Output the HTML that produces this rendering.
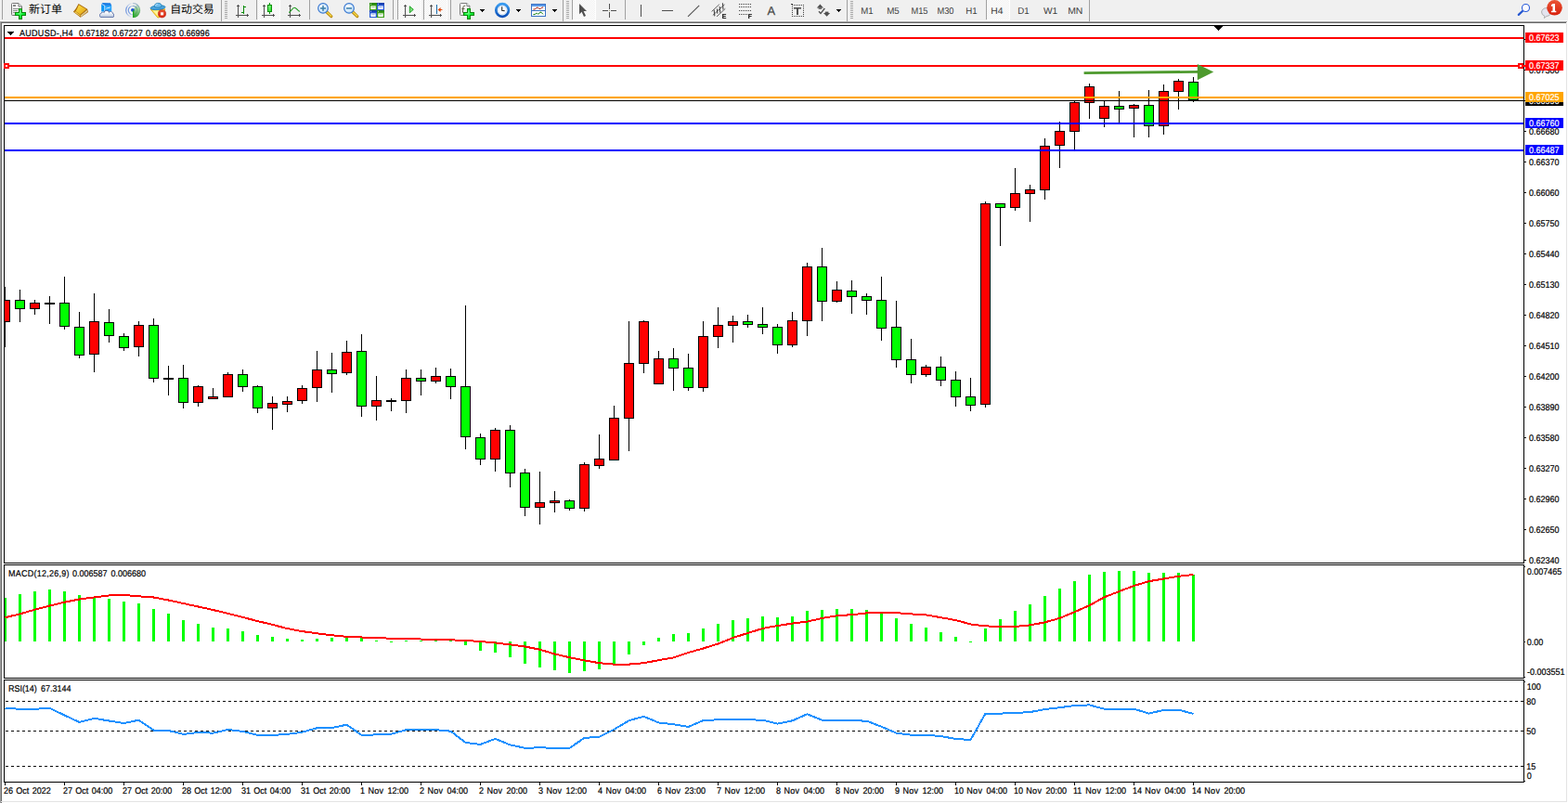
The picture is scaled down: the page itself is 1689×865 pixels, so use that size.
<!DOCTYPE html>
<html><head><meta charset="utf-8"><title>AUDUSD H4</title>
<style>
html,body{margin:0;padding:0;background:#fff}
body{width:1689px;height:865px;overflow:hidden;position:relative;font-family:"Liberation Sans",sans-serif}
svg{position:absolute;left:0;top:0;display:block}
svg text{font-family:"Liberation Sans",sans-serif;white-space:pre;text-rendering:geometricPrecision}
svg text.cjk{font-family:"Liberation Sans","Noto Sans CJK SC",sans-serif}
</style></head><body>
<svg width="1689" height="865" viewBox="0 0 1689 865" shape-rendering="crispEdges">
<rect x="0" y="0" width="1689" height="865" fill="#ffffff"/>
<rect x="0" y="0" width="1689" height="22" fill="#f0f0f0"/>
<rect x="0" y="22" width="1689" height="1" fill="#f8f8f8"/>
<rect x="0" y="23" width="1688" height="1" fill="#a0a0a0"/>
<rect x="0" y="24" width="1687" height="1" fill="#696969"/>
<rect x="0" y="24" width="1" height="841" fill="#a0a0a0"/>
<rect x="1" y="25" width="1" height="840" fill="#696969"/>
<rect x="1687" y="25" width="1" height="839" fill="#e3e3e3"/>
<rect x="1" y="863" width="1687" height="1" fill="#e3e3e3"/>
<rect x="4" y="27" width="1638" height="1" fill="#000"/>
<rect x="4" y="606" width="1638" height="1" fill="#000"/>
<rect x="4" y="27" width="1" height="580" fill="#000"/>
<rect x="1641" y="27" width="1" height="580" fill="#000"/>
<rect x="4" y="608" width="1638" height="1" fill="#000"/>
<rect x="4" y="730" width="1638" height="1" fill="#000"/>
<rect x="4" y="608" width="1" height="123" fill="#000"/>
<rect x="1641" y="608" width="1" height="123" fill="#000"/>
<rect x="4" y="732" width="1638" height="1" fill="#000"/>
<rect x="4" y="842" width="1638" height="1" fill="#000"/>
<rect x="4" y="732" width="1" height="111" fill="#000"/>
<rect x="1641" y="732" width="1" height="111" fill="#000"/>
<clipPath id="cp"><rect x="5" y="28" width="1636" height="578"/></clipPath>
<g clip-path="url(#cp)">
<rect x="5" y="309" width="1" height="65" fill="#000"/>
<rect x="0" y="323" width="11" height="24" fill="#000"/>
<rect x="1" y="324" width="9" height="22" fill="#ff0000"/>
<rect x="21" y="312" width="1" height="35" fill="#000"/>
<rect x="16" y="323" width="11" height="10" fill="#000"/>
<rect x="17" y="324" width="9" height="8" fill="#00ff00"/>
<rect x="37" y="323" width="1" height="16" fill="#000"/>
<rect x="32" y="326" width="11" height="7" fill="#000"/>
<rect x="33" y="327" width="9" height="5" fill="#ff0000"/>
<rect x="53" y="319" width="1" height="30" fill="#000"/>
<rect x="48" y="326" width="11" height="2" fill="#000"/>
<rect x="69" y="298" width="1" height="57" fill="#000"/>
<rect x="64" y="326" width="11" height="26" fill="#000"/>
<rect x="65" y="327" width="9" height="24" fill="#00ff00"/>
<rect x="85" y="336" width="1" height="50" fill="#000"/>
<rect x="80" y="352" width="11" height="31" fill="#000"/>
<rect x="81" y="353" width="9" height="29" fill="#00ff00"/>
<rect x="101" y="316" width="1" height="85" fill="#000"/>
<rect x="96" y="346" width="11" height="36" fill="#000"/>
<rect x="97" y="347" width="9" height="34" fill="#ff0000"/>
<rect x="117" y="333" width="1" height="36" fill="#000"/>
<rect x="112" y="347" width="11" height="15" fill="#000"/>
<rect x="113" y="348" width="9" height="13" fill="#00ff00"/>
<rect x="133" y="359" width="1" height="19" fill="#000"/>
<rect x="128" y="362" width="11" height="13" fill="#000"/>
<rect x="129" y="363" width="9" height="11" fill="#00ff00"/>
<rect x="149" y="346" width="1" height="38" fill="#000"/>
<rect x="144" y="350" width="11" height="24" fill="#000"/>
<rect x="145" y="351" width="9" height="22" fill="#ff0000"/>
<rect x="165" y="343" width="1" height="69" fill="#000"/>
<rect x="160" y="350" width="11" height="58" fill="#000"/>
<rect x="161" y="351" width="9" height="56" fill="#00ff00"/>
<rect x="181" y="394" width="1" height="32" fill="#000"/>
<rect x="176" y="407" width="11" height="2" fill="#000"/>
<rect x="197" y="393" width="1" height="47" fill="#000"/>
<rect x="192" y="407" width="11" height="27" fill="#000"/>
<rect x="193" y="408" width="9" height="25" fill="#00ff00"/>
<rect x="213" y="415" width="1" height="23" fill="#000"/>
<rect x="208" y="416" width="11" height="18" fill="#000"/>
<rect x="209" y="417" width="9" height="16" fill="#ff0000"/>
<rect x="229" y="418" width="1" height="12" fill="#000"/>
<rect x="224" y="427" width="11" height="3" fill="#000"/>
<rect x="225" y="428" width="9" height="1" fill="#ff0000"/>
<rect x="245" y="401" width="1" height="27" fill="#000"/>
<rect x="240" y="403" width="11" height="25" fill="#000"/>
<rect x="241" y="404" width="9" height="23" fill="#ff0000"/>
<rect x="261" y="398" width="1" height="24" fill="#000"/>
<rect x="256" y="403" width="11" height="14" fill="#000"/>
<rect x="257" y="404" width="9" height="12" fill="#00ff00"/>
<rect x="277" y="415" width="1" height="30" fill="#000"/>
<rect x="272" y="416" width="11" height="24" fill="#000"/>
<rect x="273" y="417" width="9" height="22" fill="#00ff00"/>
<rect x="293" y="427" width="1" height="36" fill="#000"/>
<rect x="288" y="434" width="11" height="6" fill="#000"/>
<rect x="289" y="435" width="9" height="4" fill="#ff0000"/>
<rect x="309" y="427" width="1" height="17" fill="#000"/>
<rect x="304" y="432" width="11" height="4" fill="#000"/>
<rect x="305" y="433" width="9" height="2" fill="#ff0000"/>
<rect x="325" y="415" width="1" height="20" fill="#000"/>
<rect x="320" y="418" width="11" height="14" fill="#000"/>
<rect x="321" y="419" width="9" height="12" fill="#ff0000"/>
<rect x="341" y="378" width="1" height="55" fill="#000"/>
<rect x="336" y="398" width="11" height="20" fill="#000"/>
<rect x="337" y="399" width="9" height="18" fill="#ff0000"/>
<rect x="357" y="380" width="1" height="43" fill="#000"/>
<rect x="352" y="398" width="11" height="5" fill="#000"/>
<rect x="353" y="399" width="9" height="3" fill="#00ff00"/>
<rect x="373" y="367" width="1" height="37" fill="#000"/>
<rect x="368" y="379" width="11" height="23" fill="#000"/>
<rect x="369" y="380" width="9" height="21" fill="#ff0000"/>
<rect x="389" y="360" width="1" height="89" fill="#000"/>
<rect x="384" y="378" width="11" height="60" fill="#000"/>
<rect x="385" y="379" width="9" height="58" fill="#00ff00"/>
<rect x="405" y="405" width="1" height="48" fill="#000"/>
<rect x="400" y="431" width="11" height="7" fill="#000"/>
<rect x="401" y="432" width="9" height="5" fill="#ff0000"/>
<rect x="421" y="429" width="1" height="14" fill="#000"/>
<rect x="416" y="431" width="11" height="2" fill="#000"/>
<rect x="437" y="398" width="1" height="47" fill="#000"/>
<rect x="432" y="407" width="11" height="25" fill="#000"/>
<rect x="433" y="408" width="9" height="23" fill="#ff0000"/>
<rect x="453" y="398" width="1" height="28" fill="#000"/>
<rect x="448" y="407" width="11" height="4" fill="#000"/>
<rect x="449" y="408" width="9" height="2" fill="#00ff00"/>
<rect x="469" y="396" width="1" height="17" fill="#000"/>
<rect x="464" y="405" width="11" height="6" fill="#000"/>
<rect x="465" y="406" width="9" height="4" fill="#ff0000"/>
<rect x="485" y="397" width="1" height="33" fill="#000"/>
<rect x="480" y="405" width="11" height="12" fill="#000"/>
<rect x="481" y="406" width="9" height="10" fill="#00ff00"/>
<rect x="501" y="329" width="1" height="155" fill="#000"/>
<rect x="496" y="416" width="11" height="55" fill="#000"/>
<rect x="497" y="417" width="9" height="53" fill="#00ff00"/>
<rect x="517" y="467" width="1" height="34" fill="#000"/>
<rect x="512" y="471" width="11" height="24" fill="#000"/>
<rect x="513" y="472" width="9" height="22" fill="#00ff00"/>
<rect x="533" y="461" width="1" height="47" fill="#000"/>
<rect x="528" y="463" width="11" height="32" fill="#000"/>
<rect x="529" y="464" width="9" height="30" fill="#ff0000"/>
<rect x="549" y="458" width="1" height="67" fill="#000"/>
<rect x="544" y="463" width="11" height="47" fill="#000"/>
<rect x="545" y="464" width="9" height="45" fill="#00ff00"/>
<rect x="565" y="505" width="1" height="51" fill="#000"/>
<rect x="560" y="509" width="11" height="38" fill="#000"/>
<rect x="561" y="510" width="9" height="36" fill="#00ff00"/>
<rect x="581" y="508" width="1" height="57" fill="#000"/>
<rect x="576" y="541" width="11" height="6" fill="#000"/>
<rect x="577" y="542" width="9" height="4" fill="#ff0000"/>
<rect x="597" y="529" width="1" height="23" fill="#000"/>
<rect x="592" y="539" width="11" height="3" fill="#000"/>
<rect x="593" y="540" width="9" height="1" fill="#ff0000"/>
<rect x="613" y="538" width="1" height="12" fill="#000"/>
<rect x="608" y="539" width="11" height="9" fill="#000"/>
<rect x="609" y="540" width="9" height="7" fill="#00ff00"/>
<rect x="629" y="498" width="1" height="53" fill="#000"/>
<rect x="624" y="500" width="11" height="48" fill="#000"/>
<rect x="625" y="501" width="9" height="46" fill="#ff0000"/>
<rect x="645" y="468" width="1" height="37" fill="#000"/>
<rect x="640" y="494" width="11" height="8" fill="#000"/>
<rect x="641" y="495" width="9" height="6" fill="#ff0000"/>
<rect x="661" y="437" width="1" height="59" fill="#000"/>
<rect x="656" y="450" width="11" height="46" fill="#000"/>
<rect x="657" y="451" width="9" height="44" fill="#ff0000"/>
<rect x="677" y="346" width="1" height="140" fill="#000"/>
<rect x="672" y="391" width="11" height="60" fill="#000"/>
<rect x="673" y="392" width="9" height="58" fill="#ff0000"/>
<rect x="693" y="345" width="1" height="57" fill="#000"/>
<rect x="688" y="346" width="11" height="46" fill="#000"/>
<rect x="689" y="347" width="9" height="44" fill="#ff0000"/>
<rect x="709" y="378" width="1" height="36" fill="#000"/>
<rect x="704" y="386" width="11" height="28" fill="#000"/>
<rect x="705" y="387" width="9" height="26" fill="#ff0000"/>
<rect x="725" y="375" width="1" height="46" fill="#000"/>
<rect x="720" y="386" width="11" height="11" fill="#000"/>
<rect x="721" y="387" width="9" height="9" fill="#00ff00"/>
<rect x="741" y="381" width="1" height="40" fill="#000"/>
<rect x="736" y="396" width="11" height="22" fill="#000"/>
<rect x="737" y="397" width="9" height="20" fill="#00ff00"/>
<rect x="757" y="346" width="1" height="76" fill="#000"/>
<rect x="752" y="362" width="11" height="56" fill="#000"/>
<rect x="753" y="363" width="9" height="54" fill="#ff0000"/>
<rect x="773" y="331" width="1" height="44" fill="#000"/>
<rect x="768" y="350" width="11" height="13" fill="#000"/>
<rect x="769" y="351" width="9" height="11" fill="#ff0000"/>
<rect x="789" y="340" width="1" height="29" fill="#000"/>
<rect x="784" y="346" width="11" height="5" fill="#000"/>
<rect x="785" y="347" width="9" height="3" fill="#ff0000"/>
<rect x="805" y="339" width="1" height="14" fill="#000"/>
<rect x="800" y="346" width="11" height="4" fill="#000"/>
<rect x="801" y="347" width="9" height="2" fill="#00ff00"/>
<rect x="821" y="331" width="1" height="29" fill="#000"/>
<rect x="816" y="349" width="11" height="4" fill="#000"/>
<rect x="817" y="350" width="9" height="2" fill="#00ff00"/>
<rect x="837" y="349" width="1" height="32" fill="#000"/>
<rect x="832" y="352" width="11" height="20" fill="#000"/>
<rect x="833" y="353" width="9" height="18" fill="#00ff00"/>
<rect x="853" y="336" width="1" height="38" fill="#000"/>
<rect x="848" y="345" width="11" height="27" fill="#000"/>
<rect x="849" y="346" width="9" height="25" fill="#ff0000"/>
<rect x="869" y="283" width="1" height="79" fill="#000"/>
<rect x="864" y="287" width="11" height="59" fill="#000"/>
<rect x="865" y="288" width="9" height="57" fill="#ff0000"/>
<rect x="885" y="267" width="1" height="79" fill="#000"/>
<rect x="880" y="287" width="11" height="38" fill="#000"/>
<rect x="881" y="288" width="9" height="36" fill="#00ff00"/>
<rect x="901" y="303" width="1" height="23" fill="#000"/>
<rect x="896" y="312" width="11" height="13" fill="#000"/>
<rect x="897" y="313" width="9" height="11" fill="#ff0000"/>
<rect x="917" y="302" width="1" height="36" fill="#000"/>
<rect x="912" y="313" width="11" height="7" fill="#000"/>
<rect x="913" y="314" width="9" height="5" fill="#00ff00"/>
<rect x="933" y="316" width="1" height="23" fill="#000"/>
<rect x="928" y="319" width="11" height="5" fill="#000"/>
<rect x="929" y="320" width="9" height="3" fill="#00ff00"/>
<rect x="949" y="298" width="1" height="69" fill="#000"/>
<rect x="944" y="323" width="11" height="31" fill="#000"/>
<rect x="945" y="324" width="9" height="29" fill="#00ff00"/>
<rect x="965" y="324" width="1" height="72" fill="#000"/>
<rect x="960" y="352" width="11" height="36" fill="#000"/>
<rect x="961" y="353" width="9" height="34" fill="#00ff00"/>
<rect x="981" y="365" width="1" height="48" fill="#000"/>
<rect x="976" y="387" width="11" height="17" fill="#000"/>
<rect x="977" y="388" width="9" height="15" fill="#00ff00"/>
<rect x="997" y="393" width="1" height="13" fill="#000"/>
<rect x="992" y="395" width="11" height="9" fill="#000"/>
<rect x="993" y="396" width="9" height="7" fill="#ff0000"/>
<rect x="1013" y="384" width="1" height="32" fill="#000"/>
<rect x="1008" y="395" width="11" height="15" fill="#000"/>
<rect x="1009" y="396" width="9" height="13" fill="#00ff00"/>
<rect x="1029" y="400" width="1" height="38" fill="#000"/>
<rect x="1024" y="409" width="11" height="19" fill="#000"/>
<rect x="1025" y="410" width="9" height="17" fill="#00ff00"/>
<rect x="1045" y="407" width="1" height="36" fill="#000"/>
<rect x="1040" y="427" width="11" height="10" fill="#000"/>
<rect x="1041" y="428" width="9" height="8" fill="#00ff00"/>
<rect x="1061" y="217" width="1" height="222" fill="#000"/>
<rect x="1056" y="219" width="11" height="217" fill="#000"/>
<rect x="1057" y="220" width="9" height="215" fill="#ff0000"/>
<rect x="1077" y="219" width="1" height="46" fill="#000"/>
<rect x="1072" y="219" width="11" height="5" fill="#000"/>
<rect x="1073" y="220" width="9" height="3" fill="#00ff00"/>
<rect x="1093" y="181" width="1" height="46" fill="#000"/>
<rect x="1088" y="208" width="11" height="16" fill="#000"/>
<rect x="1089" y="209" width="9" height="14" fill="#ff0000"/>
<rect x="1109" y="199" width="1" height="40" fill="#000"/>
<rect x="1104" y="204" width="11" height="5" fill="#000"/>
<rect x="1105" y="205" width="9" height="3" fill="#ff0000"/>
<rect x="1125" y="149" width="1" height="66" fill="#000"/>
<rect x="1120" y="157" width="11" height="48" fill="#000"/>
<rect x="1121" y="158" width="9" height="46" fill="#ff0000"/>
<rect x="1141" y="131" width="1" height="50" fill="#000"/>
<rect x="1136" y="141" width="11" height="16" fill="#000"/>
<rect x="1137" y="142" width="9" height="14" fill="#ff0000"/>
<rect x="1157" y="109" width="1" height="52" fill="#000"/>
<rect x="1152" y="110" width="11" height="32" fill="#000"/>
<rect x="1153" y="111" width="9" height="30" fill="#ff0000"/>
<rect x="1173" y="90" width="1" height="38" fill="#000"/>
<rect x="1168" y="93" width="11" height="18" fill="#000"/>
<rect x="1169" y="94" width="9" height="16" fill="#ff0000"/>
<rect x="1189" y="109" width="1" height="28" fill="#000"/>
<rect x="1184" y="114" width="11" height="14" fill="#000"/>
<rect x="1185" y="115" width="9" height="12" fill="#ff0000"/>
<rect x="1205" y="98" width="1" height="34" fill="#000"/>
<rect x="1200" y="114" width="11" height="4" fill="#000"/>
<rect x="1201" y="115" width="9" height="2" fill="#00ff00"/>
<rect x="1221" y="112" width="1" height="36" fill="#000"/>
<rect x="1216" y="113" width="11" height="4" fill="#000"/>
<rect x="1217" y="114" width="9" height="2" fill="#ff0000"/>
<rect x="1237" y="97" width="1" height="51" fill="#000"/>
<rect x="1232" y="113" width="11" height="23" fill="#000"/>
<rect x="1233" y="114" width="9" height="21" fill="#00ff00"/>
<rect x="1253" y="91" width="1" height="54" fill="#000"/>
<rect x="1248" y="98" width="11" height="38" fill="#000"/>
<rect x="1249" y="99" width="9" height="36" fill="#ff0000"/>
<rect x="1269" y="85" width="1" height="33" fill="#000"/>
<rect x="1264" y="87" width="11" height="12" fill="#000"/>
<rect x="1265" y="88" width="9" height="10" fill="#ff0000"/>
<rect x="1285" y="83" width="1" height="27" fill="#000"/>
<rect x="1280" y="88" width="11" height="20" fill="#000"/>
<rect x="1281" y="89" width="9" height="18" fill="#00ff00"/>
</g>
<rect x="5" y="40" width="1636" height="2" fill="#ff0000"/>
<rect x="5" y="70" width="1636" height="2" fill="#ff0000"/>
<rect x="5" y="104" width="1636" height="2" fill="#ffa500"/>
<rect x="5" y="108" width="1636" height="1" fill="#000"/>
<rect x="5" y="132" width="1636" height="2" fill="#0000ff"/>
<rect x="5" y="161" width="1636" height="2" fill="#0000ff"/>
<rect x="4" y="68" width="6" height="6" fill="#ff0000"/>
<rect x="6" y="70" width="2" height="2" fill="#fff"/>
<rect x="1635" y="68" width="6" height="6" fill="#ff0000"/>
<rect x="1637" y="70" width="2" height="2" fill="#fff"/>
<rect x="1641" y="70" width="2" height="2" fill="#ff0000"/>
<rect x="1641" y="40" width="1" height="2" fill="#000"/>
<rect x="1641" y="104" width="1" height="2" fill="#000"/>
<rect x="1641" y="108" width="1" height="1" fill="#000"/>
<rect x="1641" y="132" width="1" height="2" fill="#000"/>
<rect x="1641" y="161" width="1" height="2" fill="#000"/>
<g shape-rendering="geometricPrecision"><line x1="1167.6" y1="78.7" x2="1292" y2="77.3" stroke="#4e9a2e" stroke-width="2.8"/><polygon points="1289.8,69 1307.2,77.5 1289.8,86.3" fill="#4e9a2e"/></g>
<rect x="1308" y="28" width="9" height="1" fill="#000"/>
<rect x="1309" y="29" width="7" height="1" fill="#000"/>
<rect x="1310" y="30" width="5" height="1" fill="#000"/>
<rect x="1311" y="31" width="3" height="1" fill="#000"/>
<rect x="1312" y="32" width="1" height="1" fill="#000"/>
<rect x="8" y="34" width="7" height="1" fill="#000"/>
<rect x="9" y="35" width="5" height="1" fill="#000"/>
<rect x="10" y="36" width="3" height="1" fill="#000"/>
<rect x="11" y="37" width="1" height="1" fill="#000"/>
<rect x="1642" y="603" width="2" height="1" fill="#000"/>
<text transform="translate(1647.0,607) scale(0.923,1)" fill="#000" stroke="#000" stroke-width="0.2" font-size="9.75">0.62340</text>
<rect x="1642" y="570" width="2" height="1" fill="#000"/>
<text transform="translate(1647.0,574) scale(0.923,1)" fill="#000" stroke="#000" stroke-width="0.2" font-size="9.75">0.62650</text>
<rect x="1642" y="537" width="2" height="1" fill="#000"/>
<text transform="translate(1647.0,541) scale(0.923,1)" fill="#000" stroke="#000" stroke-width="0.2" font-size="9.75">0.62960</text>
<rect x="1642" y="504" width="2" height="1" fill="#000"/>
<text transform="translate(1647.0,508) scale(0.923,1)" fill="#000" stroke="#000" stroke-width="0.2" font-size="9.75">0.63270</text>
<rect x="1642" y="471" width="2" height="1" fill="#000"/>
<text transform="translate(1647.0,475) scale(0.923,1)" fill="#000" stroke="#000" stroke-width="0.2" font-size="9.75">0.63580</text>
<rect x="1642" y="438" width="2" height="1" fill="#000"/>
<text transform="translate(1647.0,442) scale(0.923,1)" fill="#000" stroke="#000" stroke-width="0.2" font-size="9.75">0.63890</text>
<rect x="1642" y="405" width="2" height="1" fill="#000"/>
<text transform="translate(1647.0,409) scale(0.923,1)" fill="#000" stroke="#000" stroke-width="0.2" font-size="9.75">0.64200</text>
<rect x="1642" y="372" width="2" height="1" fill="#000"/>
<text transform="translate(1647.0,376) scale(0.923,1)" fill="#000" stroke="#000" stroke-width="0.2" font-size="9.75">0.64510</text>
<rect x="1642" y="339" width="2" height="1" fill="#000"/>
<text transform="translate(1647.0,343) scale(0.923,1)" fill="#000" stroke="#000" stroke-width="0.2" font-size="9.75">0.64820</text>
<rect x="1642" y="306" width="2" height="1" fill="#000"/>
<text transform="translate(1647.0,310) scale(0.923,1)" fill="#000" stroke="#000" stroke-width="0.2" font-size="9.75">0.65130</text>
<rect x="1642" y="273" width="2" height="1" fill="#000"/>
<text transform="translate(1647.0,277) scale(0.923,1)" fill="#000" stroke="#000" stroke-width="0.2" font-size="9.75">0.65440</text>
<rect x="1642" y="240" width="2" height="1" fill="#000"/>
<text transform="translate(1647.0,244) scale(0.923,1)" fill="#000" stroke="#000" stroke-width="0.2" font-size="9.75">0.65750</text>
<rect x="1642" y="207" width="2" height="1" fill="#000"/>
<text transform="translate(1647.0,211) scale(0.923,1)" fill="#000" stroke="#000" stroke-width="0.2" font-size="9.75">0.66060</text>
<rect x="1642" y="174" width="2" height="1" fill="#000"/>
<text transform="translate(1647.0,178) scale(0.923,1)" fill="#000" stroke="#000" stroke-width="0.2" font-size="9.75">0.66370</text>
<rect x="1642" y="141" width="2" height="1" fill="#000"/>
<text transform="translate(1647.0,145) scale(0.923,1)" fill="#000" stroke="#000" stroke-width="0.2" font-size="9.75">0.66680</text>
<rect x="1642" y="108" width="2" height="1" fill="#000"/>
<text transform="translate(1647.0,112) scale(0.923,1)" fill="#000" stroke="#000" stroke-width="0.2" font-size="9.75">0.66990</text>
<rect x="1642" y="75" width="2" height="1" fill="#000"/>
<text transform="translate(1647.0,79) scale(0.923,1)" fill="#000" stroke="#000" stroke-width="0.2" font-size="9.75">0.67300</text>
<rect x="1642" y="42" width="2" height="1" fill="#000"/>
<text transform="translate(1647.0,46) scale(0.923,1)" fill="#000" stroke="#000" stroke-width="0.2" font-size="9.75">0.67610</text>
<rect x="1643" y="103" width="41" height="11" fill="#000"/>
<text transform="translate(1647.0,112) scale(0.923,1)" fill="#fff" stroke="#fff" stroke-width="0.2" font-size="9.75">0.66996</text>
<rect x="1643" y="99" width="41" height="11" fill="#ffa500"/>
<text transform="translate(1647.0,108) scale(0.923,1)" fill="#fff" stroke="#fff" stroke-width="0.2" font-size="9.75">0.67025</text>
<rect x="1643" y="35" width="41" height="11" fill="#ff0000"/>
<text transform="translate(1647.0,44) scale(0.923,1)" fill="#fff" stroke="#fff" stroke-width="0.2" font-size="9.75">0.67623</text>
<rect x="1643" y="65" width="41" height="11" fill="#ff0000"/>
<text transform="translate(1647.0,74) scale(0.923,1)" fill="#fff" stroke="#fff" stroke-width="0.2" font-size="9.75">0.67337</text>
<rect x="1643" y="127" width="41" height="11" fill="#0000ff"/>
<text transform="translate(1647.0,136) scale(0.923,1)" fill="#fff" stroke="#fff" stroke-width="0.2" font-size="9.75">0.66760</text>
<rect x="1643" y="156" width="41" height="11" fill="#0000ff"/>
<text transform="translate(1647.0,165) scale(0.923,1)" fill="#fff" stroke="#fff" stroke-width="0.2" font-size="9.75">0.66487</text>
<rect x="5" y="644" width="2" height="47" fill="#00ff00"/>
<rect x="20" y="640" width="3" height="51" fill="#00ff00"/>
<rect x="36" y="637" width="3" height="54" fill="#00ff00"/>
<rect x="52" y="635" width="3" height="56" fill="#00ff00"/>
<rect x="68" y="637" width="3" height="54" fill="#00ff00"/>
<rect x="84" y="641" width="3" height="50" fill="#00ff00"/>
<rect x="100" y="643" width="3" height="48" fill="#00ff00"/>
<rect x="116" y="645" width="3" height="46" fill="#00ff00"/>
<rect x="132" y="648" width="3" height="43" fill="#00ff00"/>
<rect x="148" y="650" width="3" height="41" fill="#00ff00"/>
<rect x="164" y="656" width="3" height="35" fill="#00ff00"/>
<rect x="180" y="661" width="3" height="30" fill="#00ff00"/>
<rect x="196" y="668" width="3" height="23" fill="#00ff00"/>
<rect x="212" y="672" width="3" height="19" fill="#00ff00"/>
<rect x="228" y="676" width="3" height="15" fill="#00ff00"/>
<rect x="244" y="677" width="3" height="14" fill="#00ff00"/>
<rect x="260" y="680" width="3" height="11" fill="#00ff00"/>
<rect x="276" y="684" width="3" height="7" fill="#00ff00"/>
<rect x="292" y="686" width="3" height="5" fill="#00ff00"/>
<rect x="308" y="688" width="3" height="3" fill="#00ff00"/>
<rect x="324" y="689" width="3" height="2" fill="#00ff00"/>
<rect x="340" y="688" width="3" height="3" fill="#00ff00"/>
<rect x="356" y="687" width="3" height="4" fill="#00ff00"/>
<rect x="372" y="686" width="3" height="5" fill="#00ff00"/>
<rect x="388" y="687" width="3" height="4" fill="#00ff00"/>
<rect x="404" y="690" width="3" height="1" fill="#00ff00"/>
<rect x="420" y="691" width="3" height="1" fill="#00ff00"/>
<rect x="436" y="690" width="3" height="1" fill="#00ff00"/>
<rect x="452" y="690" width="3" height="1" fill="#00ff00"/>
<rect x="468" y="690" width="3" height="1" fill="#00ff00"/>
<rect x="484" y="690" width="3" height="1" fill="#00ff00"/>
<rect x="500" y="691" width="3" height="4" fill="#00ff00"/>
<rect x="516" y="691" width="3" height="10" fill="#00ff00"/>
<rect x="532" y="691" width="3" height="12" fill="#00ff00"/>
<rect x="548" y="691" width="3" height="17" fill="#00ff00"/>
<rect x="564" y="691" width="3" height="24" fill="#00ff00"/>
<rect x="580" y="691" width="3" height="28" fill="#00ff00"/>
<rect x="596" y="691" width="3" height="31" fill="#00ff00"/>
<rect x="612" y="691" width="3" height="34" fill="#00ff00"/>
<rect x="628" y="691" width="3" height="32" fill="#00ff00"/>
<rect x="644" y="691" width="3" height="30" fill="#00ff00"/>
<rect x="660" y="691" width="3" height="24" fill="#00ff00"/>
<rect x="676" y="691" width="3" height="14" fill="#00ff00"/>
<rect x="692" y="691" width="3" height="4" fill="#00ff00"/>
<rect x="708" y="687" width="3" height="4" fill="#00ff00"/>
<rect x="724" y="683" width="3" height="8" fill="#00ff00"/>
<rect x="740" y="682" width="3" height="9" fill="#00ff00"/>
<rect x="756" y="677" width="3" height="14" fill="#00ff00"/>
<rect x="772" y="672" width="3" height="19" fill="#00ff00"/>
<rect x="788" y="668" width="3" height="23" fill="#00ff00"/>
<rect x="804" y="666" width="3" height="25" fill="#00ff00"/>
<rect x="820" y="664" width="3" height="27" fill="#00ff00"/>
<rect x="836" y="665" width="3" height="26" fill="#00ff00"/>
<rect x="852" y="664" width="3" height="27" fill="#00ff00"/>
<rect x="868" y="658" width="3" height="33" fill="#00ff00"/>
<rect x="884" y="657" width="3" height="34" fill="#00ff00"/>
<rect x="900" y="656" width="3" height="35" fill="#00ff00"/>
<rect x="916" y="656" width="3" height="35" fill="#00ff00"/>
<rect x="932" y="657" width="3" height="34" fill="#00ff00"/>
<rect x="948" y="661" width="3" height="30" fill="#00ff00"/>
<rect x="964" y="666" width="3" height="25" fill="#00ff00"/>
<rect x="980" y="672" width="3" height="19" fill="#00ff00"/>
<rect x="996" y="676" width="3" height="15" fill="#00ff00"/>
<rect x="1012" y="681" width="3" height="10" fill="#00ff00"/>
<rect x="1028" y="686" width="3" height="5" fill="#00ff00"/>
<rect x="1044" y="691" width="3" height="1" fill="#00ff00"/>
<rect x="1060" y="677" width="3" height="14" fill="#00ff00"/>
<rect x="1076" y="667" width="3" height="24" fill="#00ff00"/>
<rect x="1092" y="658" width="3" height="33" fill="#00ff00"/>
<rect x="1108" y="651" width="3" height="40" fill="#00ff00"/>
<rect x="1124" y="642" width="3" height="49" fill="#00ff00"/>
<rect x="1140" y="634" width="3" height="57" fill="#00ff00"/>
<rect x="1156" y="626" width="3" height="65" fill="#00ff00"/>
<rect x="1172" y="619" width="3" height="72" fill="#00ff00"/>
<rect x="1188" y="616" width="3" height="75" fill="#00ff00"/>
<rect x="1204" y="615" width="3" height="76" fill="#00ff00"/>
<rect x="1220" y="615" width="3" height="76" fill="#00ff00"/>
<rect x="1236" y="617" width="3" height="74" fill="#00ff00"/>
<rect x="1252" y="617" width="3" height="74" fill="#00ff00"/>
<rect x="1268" y="617" width="3" height="74" fill="#00ff00"/>
<rect x="1284" y="619" width="3" height="72" fill="#00ff00"/>
<polyline points="5.5,665.2 21.5,661.4 37.5,656.7 53.5,652.5 69.5,648.7 85.5,645.5 101.5,643.5 117.5,641.5 133.5,641 149.5,642.3 165.5,643.5 181.5,646.5 197.5,650 213.5,653.5 229.5,657 245.5,660.9 261.5,664.9 277.5,669.1 293.5,672.9 309.5,677.1 325.5,680.1 341.5,682.3 357.5,684.3 373.5,685.8 389.5,686.5 405.5,687 421.5,687.8 437.5,688.3 453.5,688.5 469.5,688.8 485.5,689.3 501.5,690 517.5,691 533.5,692.5 549.5,694.3 565.5,696.5 581.5,699.7 597.5,704.5 613.5,708.2 629.5,711.4 645.5,714.2 661.5,715.6 677.5,715.6 693.5,714.2 709.5,711.2 725.5,708.4 741.5,703 757.5,698.5 773.5,693.5 789.5,687 805.5,682 821.5,677 837.5,674 853.5,671.6 869.5,669.6 885.5,666 901.5,663.2 917.5,662.2 933.5,660.4 949.5,660 965.5,660.2 981.5,661.4 997.5,662.4 1013.5,665.2 1029.5,668.1 1045.5,672.4 1061.5,674.4 1077.5,674.9 1093.5,674.9 1109.5,673.4 1125.5,670.4 1141.5,665.9 1157.5,659.2 1173.5,652.2 1189.5,643.3 1205.5,637.1 1221.5,631 1237.5,626.2 1253.5,623.5 1269.5,620.8 1285.5,619" fill="none" stroke="#ff0000" stroke-width="2"/>
<rect x="1642" y="610" width="1" height="1" fill="#000"/>
<rect x="1642" y="691" width="1" height="1" fill="#000"/>
<rect x="1642" y="729" width="1" height="1" fill="#000"/>
<text transform="translate(1644.8,619) scale(0.923,1)" fill="#000" stroke="#000" stroke-width="0.2" font-size="9.75">0.007465</text>
<text transform="translate(1644.8,695) scale(0.923,1)" fill="#000" stroke="#000" stroke-width="0.2" font-size="9.75">0.00</text>
<text transform="translate(1645,727) scale(0.923,1)" fill="#000" stroke="#000" stroke-width="0.2" font-size="9.75">-0.003551</text>
<line x1="6" y1="755.5" x2="1641" y2="755.5" stroke="#000" stroke-width="1" stroke-dasharray="3 3"/>
<line x1="6" y1="787.5" x2="1641" y2="787.5" stroke="#000" stroke-width="1" stroke-dasharray="3 3"/>
<line x1="6" y1="825.5" x2="1641" y2="825.5" stroke="#000" stroke-width="1" stroke-dasharray="3 3"/>
<polyline points="5.5,762.8 21.5,763.8 37.5,763.8 53.5,762.8 69.5,770.5 85.5,778 101.5,773.8 117.5,776.5 133.5,779 149.5,775.7 165.5,786.7 181.5,787 197.5,790.9 213.5,788.9 229.5,789.7 245.5,786 261.5,787.9 277.5,791.9 293.5,791.9 309.5,790.9 325.5,788.7 341.5,784.2 357.5,784 373.5,780.7 389.5,791.9 405.5,791.4 421.5,790.7 437.5,786.2 453.5,786.2 469.5,786.2 485.5,787.7 501.5,799.9 517.5,801.9 533.5,795.9 549.5,802.4 565.5,805.8 581.5,805.3 597.5,805.8 613.5,805.8 629.5,794.9 645.5,793.7 661.5,785.7 677.5,776.2 693.5,771.8 709.5,778.5 725.5,780.2 741.5,783 757.5,776 773.5,775.3 789.5,774.8 805.5,775.3 821.5,775.7 837.5,779.7 853.5,776.3 869.5,769.3 885.5,775.7 901.5,775.7 917.5,776.3 933.5,776.6 949.5,782.8 965.5,789.6 981.5,791.7 997.5,791.7 1013.5,793 1029.5,796 1045.5,797 1061.5,768.6 1077.5,768.6 1093.5,768 1109.5,767.1 1125.5,764 1141.5,762.2 1157.5,760 1173.5,759.4 1189.5,763.7 1205.5,763.7 1221.5,763.7 1237.5,768.6 1253.5,764.9 1269.5,764.6 1285.5,768.9" fill="none" stroke="#1e90ff" stroke-width="2"/>
<rect x="1642" y="734" width="1" height="1" fill="#000"/>
<rect x="1642" y="841" width="1" height="1" fill="#000"/>
<text transform="translate(1644.8,743) scale(0.923,1)" fill="#000" stroke="#000" stroke-width="0.2" font-size="9.75">100</text>
<text transform="translate(1644.2,759) scale(0.923,1)" fill="#000" stroke="#000" stroke-width="0.2" font-size="9.75">80</text>
<text transform="translate(1644.2,791) scale(0.923,1)" fill="#000" stroke="#000" stroke-width="0.2" font-size="9.75">50</text>
<text transform="translate(1644.2,829) scale(0.923,1)" fill="#000" stroke="#000" stroke-width="0.2" font-size="9.75">15</text>
<text transform="translate(1644.8,839) scale(0.923,1)" fill="#000" stroke="#000" stroke-width="0.2" font-size="9.75">0</text>
<text transform="translate(21,39) scale(0.923,1)" fill="#000" stroke="#000" stroke-width="0.2" font-size="9.75" textLength="62.41" lengthAdjust="spacing">AUDUSD-,H4</text>
<text transform="translate(84.9,39) scale(0.923,1)" fill="#000" stroke="#000" stroke-width="0.2" font-size="9.75">0.67182</text>
<text transform="translate(121.1,39) scale(0.923,1)" fill="#000" stroke="#000" stroke-width="0.2" font-size="9.75">0.67227</text>
<text transform="translate(157.0,39) scale(0.923,1)" fill="#000" stroke="#000" stroke-width="0.2" font-size="9.75">0.66983</text>
<text transform="translate(193.1,39) scale(0.923,1)" fill="#000" stroke="#000" stroke-width="0.2" font-size="9.75">0.66996</text>
<text transform="translate(9.0,621) scale(0.923,1)" fill="#000" stroke="#000" stroke-width="0.2" font-size="9.75" textLength="71.07" lengthAdjust="spacing">MACD(12,26,9)</text>
<text transform="translate(77.9,621) scale(0.923,1)" fill="#000" stroke="#000" stroke-width="0.2" font-size="9.75">0.006587</text>
<text transform="translate(119.5,621) scale(0.923,1)" fill="#000" stroke="#000" stroke-width="0.2" font-size="9.75">0.006680</text>
<text transform="translate(9.0,745) scale(0.923,1)" fill="#000" stroke="#000" stroke-width="0.2" font-size="9.75" textLength="33.37" lengthAdjust="spacing">RSI(14)</text>
<text transform="translate(43.9,745) scale(0.923,1)" fill="#000" stroke="#000" stroke-width="0.2" font-size="9.75">67.3144</text>
<rect x="5" y="843" width="1" height="3" fill="#000"/>
<text transform="translate(4.0,855) scale(0.923,1)" fill="#000" stroke="#000" stroke-width="0.2" font-size="9.75">26</text>
<text transform="translate(17.2,855) scale(0.923,1)" fill="#000" stroke="#000" stroke-width="0.2" font-size="9.75">Oct</text>
<text transform="translate(34.8,855) scale(0.923,1)" fill="#000" stroke="#000" stroke-width="0.2" font-size="9.75">2022</text>
<rect x="69" y="843" width="1" height="3" fill="#000"/>
<text transform="translate(68.0,855) scale(0.923,1)" fill="#000" stroke="#000" stroke-width="0.2" font-size="9.75">27</text>
<text transform="translate(81.2,855) scale(0.923,1)" fill="#000" stroke="#000" stroke-width="0.2" font-size="9.75">Oct</text>
<text transform="translate(98.8,855) scale(0.923,1)" fill="#000" stroke="#000" stroke-width="0.2" font-size="9.75">04:00</text>
<rect x="133" y="843" width="1" height="3" fill="#000"/>
<text transform="translate(132.0,855) scale(0.923,1)" fill="#000" stroke="#000" stroke-width="0.2" font-size="9.75">27</text>
<text transform="translate(145.2,855) scale(0.923,1)" fill="#000" stroke="#000" stroke-width="0.2" font-size="9.75">Oct</text>
<text transform="translate(162.8,855) scale(0.923,1)" fill="#000" stroke="#000" stroke-width="0.2" font-size="9.75">20:00</text>
<rect x="197" y="843" width="1" height="3" fill="#000"/>
<text transform="translate(196.0,855) scale(0.923,1)" fill="#000" stroke="#000" stroke-width="0.2" font-size="9.75">28</text>
<text transform="translate(209.2,855) scale(0.923,1)" fill="#000" stroke="#000" stroke-width="0.2" font-size="9.75">Oct</text>
<text transform="translate(226.8,855) scale(0.923,1)" fill="#000" stroke="#000" stroke-width="0.2" font-size="9.75">12:00</text>
<rect x="261" y="843" width="1" height="3" fill="#000"/>
<text transform="translate(260.0,855) scale(0.923,1)" fill="#000" stroke="#000" stroke-width="0.2" font-size="9.75">31</text>
<text transform="translate(273.2,855) scale(0.923,1)" fill="#000" stroke="#000" stroke-width="0.2" font-size="9.75">Oct</text>
<text transform="translate(290.8,855) scale(0.923,1)" fill="#000" stroke="#000" stroke-width="0.2" font-size="9.75">04:00</text>
<rect x="325" y="843" width="1" height="3" fill="#000"/>
<text transform="translate(324.0,855) scale(0.923,1)" fill="#000" stroke="#000" stroke-width="0.2" font-size="9.75">31</text>
<text transform="translate(337.2,855) scale(0.923,1)" fill="#000" stroke="#000" stroke-width="0.2" font-size="9.75">Oct</text>
<text transform="translate(354.8,855) scale(0.923,1)" fill="#000" stroke="#000" stroke-width="0.2" font-size="9.75">20:00</text>
<rect x="389" y="843" width="1" height="3" fill="#000"/>
<text transform="translate(388.0,855) scale(0.923,1)" fill="#000" stroke="#000" stroke-width="0.2" font-size="9.75">1</text>
<text transform="translate(396.4,855) scale(0.923,1)" fill="#000" stroke="#000" stroke-width="0.2" font-size="9.75" textLength="18.09" lengthAdjust="spacing">Nov</text>
<text transform="translate(417.6,855) scale(0.923,1)" fill="#000" stroke="#000" stroke-width="0.2" font-size="9.75">12:00</text>
<rect x="453" y="843" width="1" height="3" fill="#000"/>
<text transform="translate(452.0,855) scale(0.923,1)" fill="#000" stroke="#000" stroke-width="0.2" font-size="9.75">2</text>
<text transform="translate(460.4,855) scale(0.923,1)" fill="#000" stroke="#000" stroke-width="0.2" font-size="9.75" textLength="18.09" lengthAdjust="spacing">Nov</text>
<text transform="translate(481.6,855) scale(0.923,1)" fill="#000" stroke="#000" stroke-width="0.2" font-size="9.75">04:00</text>
<rect x="517" y="843" width="1" height="3" fill="#000"/>
<text transform="translate(516.0,855) scale(0.923,1)" fill="#000" stroke="#000" stroke-width="0.2" font-size="9.75">2</text>
<text transform="translate(524.4,855) scale(0.923,1)" fill="#000" stroke="#000" stroke-width="0.2" font-size="9.75" textLength="18.09" lengthAdjust="spacing">Nov</text>
<text transform="translate(545.6,855) scale(0.923,1)" fill="#000" stroke="#000" stroke-width="0.2" font-size="9.75">20:00</text>
<rect x="581" y="843" width="1" height="3" fill="#000"/>
<text transform="translate(580.0,855) scale(0.923,1)" fill="#000" stroke="#000" stroke-width="0.2" font-size="9.75">3</text>
<text transform="translate(588.4,855) scale(0.923,1)" fill="#000" stroke="#000" stroke-width="0.2" font-size="9.75" textLength="18.09" lengthAdjust="spacing">Nov</text>
<text transform="translate(609.6,855) scale(0.923,1)" fill="#000" stroke="#000" stroke-width="0.2" font-size="9.75">12:00</text>
<rect x="645" y="843" width="1" height="3" fill="#000"/>
<text transform="translate(644.0,855) scale(0.923,1)" fill="#000" stroke="#000" stroke-width="0.2" font-size="9.75">4</text>
<text transform="translate(652.4,855) scale(0.923,1)" fill="#000" stroke="#000" stroke-width="0.2" font-size="9.75" textLength="18.09" lengthAdjust="spacing">Nov</text>
<text transform="translate(673.6,855) scale(0.923,1)" fill="#000" stroke="#000" stroke-width="0.2" font-size="9.75">04:00</text>
<rect x="709" y="843" width="1" height="3" fill="#000"/>
<text transform="translate(708.0,855) scale(0.923,1)" fill="#000" stroke="#000" stroke-width="0.2" font-size="9.75">6</text>
<text transform="translate(716.4,855) scale(0.923,1)" fill="#000" stroke="#000" stroke-width="0.2" font-size="9.75" textLength="18.09" lengthAdjust="spacing">Nov</text>
<text transform="translate(737.6,855) scale(0.923,1)" fill="#000" stroke="#000" stroke-width="0.2" font-size="9.75">23:00</text>
<rect x="773" y="843" width="1" height="3" fill="#000"/>
<text transform="translate(772.0,855) scale(0.923,1)" fill="#000" stroke="#000" stroke-width="0.2" font-size="9.75">7</text>
<text transform="translate(780.4,855) scale(0.923,1)" fill="#000" stroke="#000" stroke-width="0.2" font-size="9.75" textLength="18.09" lengthAdjust="spacing">Nov</text>
<text transform="translate(801.6,855) scale(0.923,1)" fill="#000" stroke="#000" stroke-width="0.2" font-size="9.75">12:00</text>
<rect x="837" y="843" width="1" height="3" fill="#000"/>
<text transform="translate(836.0,855) scale(0.923,1)" fill="#000" stroke="#000" stroke-width="0.2" font-size="9.75">8</text>
<text transform="translate(844.4,855) scale(0.923,1)" fill="#000" stroke="#000" stroke-width="0.2" font-size="9.75" textLength="18.09" lengthAdjust="spacing">Nov</text>
<text transform="translate(865.6,855) scale(0.923,1)" fill="#000" stroke="#000" stroke-width="0.2" font-size="9.75">04:00</text>
<rect x="901" y="843" width="1" height="3" fill="#000"/>
<text transform="translate(900.0,855) scale(0.923,1)" fill="#000" stroke="#000" stroke-width="0.2" font-size="9.75">8</text>
<text transform="translate(908.4,855) scale(0.923,1)" fill="#000" stroke="#000" stroke-width="0.2" font-size="9.75" textLength="18.09" lengthAdjust="spacing">Nov</text>
<text transform="translate(929.6,855) scale(0.923,1)" fill="#000" stroke="#000" stroke-width="0.2" font-size="9.75">20:00</text>
<rect x="965" y="843" width="1" height="3" fill="#000"/>
<text transform="translate(964.0,855) scale(0.923,1)" fill="#000" stroke="#000" stroke-width="0.2" font-size="9.75">9</text>
<text transform="translate(972.4,855) scale(0.923,1)" fill="#000" stroke="#000" stroke-width="0.2" font-size="9.75" textLength="18.09" lengthAdjust="spacing">Nov</text>
<text transform="translate(993.6,855) scale(0.923,1)" fill="#000" stroke="#000" stroke-width="0.2" font-size="9.75">12:00</text>
<rect x="1029" y="843" width="1" height="3" fill="#000"/>
<text transform="translate(1028.0,855) scale(0.923,1)" fill="#000" stroke="#000" stroke-width="0.2" font-size="9.75">10</text>
<text transform="translate(1041.2,855) scale(0.923,1)" fill="#000" stroke="#000" stroke-width="0.2" font-size="9.75" textLength="18.09" lengthAdjust="spacing">Nov</text>
<text transform="translate(1062.4,855) scale(0.923,1)" fill="#000" stroke="#000" stroke-width="0.2" font-size="9.75">04:00</text>
<rect x="1093" y="843" width="1" height="3" fill="#000"/>
<text transform="translate(1092.0,855) scale(0.923,1)" fill="#000" stroke="#000" stroke-width="0.2" font-size="9.75">10</text>
<text transform="translate(1105.2,855) scale(0.923,1)" fill="#000" stroke="#000" stroke-width="0.2" font-size="9.75" textLength="18.09" lengthAdjust="spacing">Nov</text>
<text transform="translate(1126.4,855) scale(0.923,1)" fill="#000" stroke="#000" stroke-width="0.2" font-size="9.75">20:00</text>
<rect x="1157" y="843" width="1" height="3" fill="#000"/>
<text transform="translate(1156.0,855) scale(0.923,1)" fill="#000" stroke="#000" stroke-width="0.2" font-size="9.75">11</text>
<text transform="translate(1169.2,855) scale(0.923,1)" fill="#000" stroke="#000" stroke-width="0.2" font-size="9.75" textLength="18.09" lengthAdjust="spacing">Nov</text>
<text transform="translate(1190.4,855) scale(0.923,1)" fill="#000" stroke="#000" stroke-width="0.2" font-size="9.75">12:00</text>
<rect x="1221" y="843" width="1" height="3" fill="#000"/>
<text transform="translate(1220.0,855) scale(0.923,1)" fill="#000" stroke="#000" stroke-width="0.2" font-size="9.75">14</text>
<text transform="translate(1233.2,855) scale(0.923,1)" fill="#000" stroke="#000" stroke-width="0.2" font-size="9.75" textLength="18.09" lengthAdjust="spacing">Nov</text>
<text transform="translate(1254.4,855) scale(0.923,1)" fill="#000" stroke="#000" stroke-width="0.2" font-size="9.75">04:00</text>
<rect x="1285" y="843" width="1" height="3" fill="#000"/>
<text transform="translate(1284.0,855) scale(0.923,1)" fill="#000" stroke="#000" stroke-width="0.2" font-size="9.75">14</text>
<text transform="translate(1297.2,855) scale(0.923,1)" fill="#000" stroke="#000" stroke-width="0.2" font-size="9.75" textLength="18.09" lengthAdjust="spacing">Nov</text>
<text transform="translate(1318.4,855) scale(0.923,1)" fill="#000" stroke="#000" stroke-width="0.2" font-size="9.75">20:00</text>
<defs>
<pattern id="chk" width="2" height="2" patternUnits="userSpaceOnUse"><rect width="2" height="2" fill="#f0f0f0"/><rect width="1" height="1" fill="#fff"/><rect x="1" y="1" width="1" height="1" fill="#fff"/></pattern>
<linearGradient id="gplus" x1="0" y1="0" x2="1" y2="1"><stop offset="0" stop-color="#7dff7d"/><stop offset="1" stop-color="#0fb50f"/></linearGradient>
<radialGradient id="gplus2" gradientUnits="objectBoundingBox" cx="0.4" cy="0.35" r="0.75"><stop offset="0" stop-color="#86ff96"/><stop offset="0.45" stop-color="#14f43c"/><stop offset="1" stop-color="#00c41c"/></radialGradient>
<linearGradient id="gpage" x1="0" y1="0" x2="0" y2="1"><stop offset="0" stop-color="#ffffff"/><stop offset="1" stop-color="#e4e4e4"/></linearGradient>
<linearGradient id="ggold" x1="0" y1="0" x2="1" y2="1"><stop offset="0" stop-color="#ffe24a"/><stop offset="1" stop-color="#e0a010"/></linearGradient>
<linearGradient id="gblue" x1="0" y1="0" x2="0" y2="1"><stop offset="0" stop-color="#38b0ff"/><stop offset="1" stop-color="#0a78e8"/></linearGradient>
<linearGradient id="gcloud" x1="0" y1="0" x2="0" y2="1"><stop offset="0" stop-color="#ffffff"/><stop offset="1" stop-color="#b8c8e0"/></linearGradient>
<linearGradient id="gred" x1="0" y1="0" x2="0" y2="1"><stop offset="0" stop-color="#ea5636"/><stop offset="1" stop-color="#d8200c"/></linearGradient>
<linearGradient id="gcand" x1="0" y1="0" x2="1" y2="1"><stop offset="0" stop-color="#9dff9d"/><stop offset="1" stop-color="#18d818"/></linearGradient>
<radialGradient id="glens" cx="0.4" cy="0.35" r="0.7"><stop offset="0" stop-color="#ffffff"/><stop offset="1" stop-color="#b8dcf8"/></radialGradient>
<linearGradient id="gclk" x1="0" y1="0" x2="0" y2="1"><stop offset="0" stop-color="#3a9cf0"/><stop offset="1" stop-color="#0c50b8"/></linearGradient>
</defs>
<g shape-rendering="geometricPrecision">
<rect x="2" y="0" width="1" height="21" fill="#a0a0a0"/>
<path d="M13.5,3.5 H20 L23.5,7 V15.5 a1,1 0 0 1 -1,1 H13.5 a1,1 0 0 1 -1,-1 V4.5 a1,1 0 0 1 1,-1 z" fill="url(#gpage)" stroke="#747474" stroke-width="1"/>
<path d="M20,3.8 V7 H23.2" fill="#f4f4f4" stroke="#747474" stroke-width="1"/>
<g shape-rendering="crispEdges">
<rect x="14" y="5" width="3" height="2" fill="#8a8a8a"/>
<rect x="14" y="9" width="6" height="1" fill="#909090"/>
<rect x="14" y="11" width="5" height="1" fill="#909090"/>
<rect x="14" y="13" width="3" height="1" fill="#909090"/>
</g>
<path d="M20,9 h4 v4 h4 v4 h-4 v4 h-4 v-4 h-4 v-4 h4 z" fill="#0a880a" shape-rendering="crispEdges"/>
<path d="M21,10 h2 v4 h4 v2 h-4 v4 h-2 v-4 h-4 v-2 h4 z" fill="url(#gplus2)" shape-rendering="crispEdges"/>
<text class="cjk" x="31" y="14.1" font-size="12" fill="#000">新订单</text>
<path d="M84.6,3.9 L94.1,9.7 L95,12.9 L86.8,18.8 L78.9,12.8 Q82.4,8.6 84.6,3.9 Z" fill="#a86a0c"/>
<path d="M87,16.4 L93.6,11 L94.2,12.6 L87.2,17.9 Z" fill="#f4ecc0"/>
<path d="M87,17.1 L94,11.8" stroke="#b88a30" stroke-width="0.5" fill="none"/>
<path d="M84.9,5.2 L93,10.1 L86.3,15.7 L81.6,11.9 Q83.6,8.8 84.9,5.2 Z" fill="url(#ggold)"/>
<path d="M81.2,12.3 L86.1,16.2 L86.5,17.6 L80,12.9 Z" fill="#f6d860"/>
<path d="M109.2,4.2 L112.6,5.9 L112.6,12.4 L109.2,12.4 Z" fill="#0a94f4"/>
<path d="M109.2,4.2 L110.6,3 L119,3.2 L120.2,5.9 L112.6,5.9 Z" fill="#1c7ee4"/>
<path d="M112.6,5.9 L120.2,5.9 L120.2,12.4 L112.6,12.4 Z" fill="#2aa4fa"/>
<path d="M109.4,4.3 L112.8,6 V12" fill="none" stroke="#e4f4ff" stroke-width="0.7"/>
<path d="M114.3,8.8 L118.6,7.5 L118.6,8.4 L114.3,9.6 Z" fill="#f0f8ff"/>
<defs><linearGradient id="gcl2" gradientUnits="userSpaceOnUse" x1="0" y1="11.5" x2="0" y2="18.6"><stop offset="0" stop-color="#ffffff"/><stop offset="0.45" stop-color="#eef2f8"/><stop offset="1" stop-color="#aebdd6"/></linearGradient></defs>
<circle cx="109.7" cy="16.4" r="2.5" fill="#40599a"/>
<circle cx="110.9" cy="15.0" r="2.3" fill="#40599a"/>
<circle cx="114.8" cy="14.2" r="3.1" fill="#40599a"/>
<circle cx="119.2" cy="14.8" r="2.6" fill="#40599a"/>
<circle cx="120.5" cy="16.4" r="2.5" fill="#40599a"/>
<rect x="109.7" y="15" width="10.8" height="3.9" fill="#40599a"/>
<circle cx="109.7" cy="16.4" r="1.9" fill="url(#gcl2)"/>
<circle cx="110.9" cy="15.0" r="1.7" fill="url(#gcl2)"/>
<circle cx="114.8" cy="14.2" r="2.5" fill="url(#gcl2)"/>
<circle cx="119.2" cy="14.8" r="2.0" fill="url(#gcl2)"/>
<circle cx="120.5" cy="16.4" r="1.9" fill="url(#gcl2)"/>
<rect x="109.7" y="14.6" width="10.8" height="3.7" fill="url(#gcl2)"/>
<defs><linearGradient id="gsig" gradientUnits="userSpaceOnUse" x1="144" y1="19" x2="149" y2="4"><stop offset="0" stop-color="#1fa51f"/><stop offset="0.45" stop-color="#7cc47c"/><stop offset="1" stop-color="#cfe6cf" stop-opacity="0.7"/></linearGradient><linearGradient id="gring" gradientUnits="userSpaceOnUse" x1="135" y1="0" x2="143.5" y2="0"><stop offset="0" stop-color="#2a62d4"/><stop offset="1" stop-color="#5a84d8" stop-opacity="0.55"/></linearGradient><linearGradient id="gfade" gradientUnits="userSpaceOnUse" x1="0" y1="3" x2="0" y2="19"><stop offset="0" stop-color="#f2f2f0" stop-opacity="0.9"/><stop offset="0.32" stop-color="#f2f2f0" stop-opacity="0"/><stop offset="0.68" stop-color="#f2f2f0" stop-opacity="0"/><stop offset="1" stop-color="#f2f2f0" stop-opacity="0.9"/></linearGradient></defs>
<circle cx="143.1" cy="11.1" r="7.9" fill="#f9f9f3" opacity="0.85"/>
<path d="M143.1,11.1 L143.1,19 A7.9,7.9 0 0 0 147.6,4.6 Z" fill="url(#gsig)"/>
<path d="M143.1,3.6999999999999993 a7.4,7.4 0 0 0 0,14.8" fill="none" stroke="url(#gring)" stroke-width="1.3" opacity="0.65"/>
<path d="M143.1,3.6999999999999993 a7.4,7.4 0 0 1 6.66,4.14" fill="none" stroke="#4a7aa8" stroke-width="1.2" opacity="0.45499999999999996"/>
<path d="M149.76,7.84 A7.4,7.4 0 0 1 143.6,18.5" fill="none" stroke="#4a9a5a" stroke-width="1.1" opacity="0.39"/>
<path d="M143.1,6.3 a4.8,4.8 0 0 0 0,9.6" fill="none" stroke="url(#gring)" stroke-width="1.3" opacity="0.85"/>
<path d="M143.1,6.3 a4.8,4.8 0 0 1 4.32,2.69" fill="none" stroke="#4a7aa8" stroke-width="1.2" opacity="0.595"/>
<path d="M147.42,8.99 A4.8,4.8 0 0 1 143.6,15.899999999999999" fill="none" stroke="#4a9a5a" stroke-width="1.1" opacity="0.51"/>
<path d="M143.1,2.8 A8.3,8.3 0 0 0 143.1,19.4 Z" fill="url(#gfade)"/>
<circle cx="142.9" cy="10.8" r="1.9" fill="#1c54cc"/>
<rect x="143" y="11.2" width="1.2" height="7.8" fill="#1ca41c"/>
<path d="M162.3,10 L177.8,9.8 L176.6,12.6 L171.4,18.9 L169.8,18.9 Z" fill="#ffe452" stroke="#dca414" stroke-width="0.9" stroke-linejoin="round"/>
<path d="M164.6,11.4 L170.4,17.6 L172.6,12 Z" fill="#fff8b0" opacity="0.8"/>
<ellipse cx="170" cy="8.2" rx="8" ry="2.3" transform="rotate(-5 170 8.2)" fill="#4ea6de" stroke="#2080b8" stroke-width="0.9"/>
<path d="M166.5,7.5 C166.3,4.1 168.2,3.4 170.3,3.4 C172.4,3.4 174.2,4.1 174.1,7.1 C172,8.4 168.4,8.6 166.5,7.5 Z" fill="#6cbcee" stroke="#2080b8" stroke-width="0.9"/>
<path d="M167.7,6.4 C167.8,5.1 168.6,4.5 169.8,4.4" fill="none" stroke="#bfe4fa" stroke-width="0.9"/>
<path d="M163.4,9.2 C166.4,10.9 174,10.7 177,8.2" fill="none" stroke="#2f8fcf" stroke-width="0.8"/>
<circle cx="174.5" cy="14.8" r="4.1" fill="url(#gred)" stroke="#b81408" stroke-width="0.6"/>
<rect x="173" y="13.3" width="3.1" height="3.1" fill="#fff"/>
<text class="cjk" x="183.2" y="14.1" font-size="11.9" fill="#000">自动交易</text>
<rect x="238" y="0" width="1" height="23" fill="#a0a0a0"/>
<rect x="242" y="1" width="3" height="1" fill="#a8a8a8"/>
<rect x="242" y="3" width="3" height="1" fill="#a8a8a8"/>
<rect x="242" y="5" width="3" height="1" fill="#a8a8a8"/>
<rect x="242" y="7" width="3" height="1" fill="#a8a8a8"/>
<rect x="242" y="9" width="3" height="1" fill="#a8a8a8"/>
<rect x="242" y="11" width="3" height="1" fill="#a8a8a8"/>
<rect x="242" y="13" width="3" height="1" fill="#a8a8a8"/>
<rect x="242" y="15" width="3" height="1" fill="#a8a8a8"/>
<rect x="242" y="17" width="3" height="1" fill="#a8a8a8"/>
<rect x="242" y="19" width="3" height="1" fill="#a8a8a8"/>
<g shape-rendering="crispEdges">
<rect x="256" y="5" width="1" height="14" fill="#505050"/>
<rect x="254" y="16" width="14" height="1" fill="#505050"/>
<rect x="255" y="6" width="3" height="1" fill="#505050"/>
<rect x="266" y="15" width="1" height="3" fill="#505050"/>
<rect x="262" y="6" width="1" height="9" fill="#0a8a0a"/>
<rect x="263" y="7" width="2" height="1" fill="#0a8a0a"/>
<rect x="260" y="13" width="2" height="1" fill="#0a8a0a"/>
</g>
<rect x="276" y="0" width="1" height="21" fill="#a0a0a0"/>
<rect x="278" y="0" width="23" height="21" fill="url(#chk)"/>
<rect x="301" y="0" width="1" height="22" fill="#fff"/>
<rect x="278" y="21" width="24" height="1" fill="#fff"/>
<g shape-rendering="crispEdges">
<rect x="284" y="5" width="1" height="14" fill="#505050"/>
<rect x="282" y="16" width="14" height="1" fill="#505050"/>
<rect x="283" y="6" width="3" height="1" fill="#505050"/>
<rect x="294" y="15" width="1" height="3" fill="#505050"/>
<rect x="290" y="3" width="1" height="12" fill="#0a900a"/>
</g>
<rect x="288.5" y="5.5" width="4" height="7" fill="url(#gcand)" stroke="#0a900a" stroke-width="1"/>
<g shape-rendering="crispEdges">
<rect x="312" y="5" width="1" height="14" fill="#505050"/>
<rect x="310" y="16" width="14" height="1" fill="#505050"/>
<rect x="311" y="6" width="3" height="1" fill="#505050"/>
<rect x="322" y="15" width="1" height="3" fill="#505050"/>
</g>
<path d="M311.2,13.6 C313.5,12.4 315,8.2 317.2,8.2 C319.2,8.2 320.6,11.8 322.8,12.4" fill="none" stroke="#1a9a1a" stroke-width="1.1"/>
<rect x="333" y="0" width="1" height="21" fill="#a0a0a0"/>
<line x1="352" y1="13" x2="356.8" y2="17.6" stroke="#b88a10" stroke-width="3.2" stroke-linecap="round"/>
<line x1="352.2" y1="13" x2="356.6" y2="17.2" stroke="#f0d040" stroke-width="1.6" stroke-linecap="round"/>
<circle cx="348" cy="8.9" r="5.3" fill="url(#glens)" stroke="#3a78d0" stroke-width="1.2"/>
<rect x="345" y="8.2" width="6" height="1.5" fill="#3a7ea8"/>
<rect x="347.25" y="5.9" width="1.5" height="6" fill="#3a7ea8"/>
<line x1="380" y1="13" x2="384.8" y2="17.6" stroke="#b88a10" stroke-width="3.2" stroke-linecap="round"/>
<line x1="380.2" y1="13" x2="384.6" y2="17.2" stroke="#f0d040" stroke-width="1.6" stroke-linecap="round"/>
<circle cx="376" cy="8.9" r="5.3" fill="url(#glens)" stroke="#3a78d0" stroke-width="1.2"/>
<rect x="373" y="8.2" width="6" height="1.5" fill="#3a7ea8"/>
<rect x="398" y="3" width="8" height="8" fill="#3fa01c"/>
<rect x="398" y="3" width="8" height="2.2" fill="#2a8a10"/>
<rect x="399.3" y="6.4" width="5.4" height="3.6" fill="#fff"/>
<rect x="400.4" y="7.4" width="3.2" height="0.9" fill="#3fa01c" opacity="0.6"/>
<rect x="399" y="3.8" width="1" height="0.9" fill="#fff" opacity="0.8"/>
<rect x="406" y="3" width="8" height="8" fill="#2a5cd8"/>
<rect x="406" y="3" width="8" height="2.2" fill="#1840b0"/>
<rect x="407.3" y="6.4" width="5.4" height="3.6" fill="#fff"/>
<rect x="408.4" y="7.4" width="3.2" height="0.9" fill="#2a5cd8" opacity="0.6"/>
<rect x="407" y="3.8" width="1" height="0.9" fill="#fff" opacity="0.8"/>
<rect x="398" y="11" width="8" height="8" fill="#2a5cd8"/>
<rect x="398" y="11" width="8" height="2.2" fill="#1840b0"/>
<rect x="399.3" y="14.4" width="5.4" height="3.6" fill="#fff"/>
<rect x="400.4" y="15.4" width="3.2" height="0.9" fill="#2a5cd8" opacity="0.6"/>
<rect x="399" y="11.8" width="1" height="0.9" fill="#fff" opacity="0.8"/>
<rect x="406" y="11" width="8" height="8" fill="#3fa01c"/>
<rect x="406" y="11" width="8" height="2.2" fill="#2a8a10"/>
<rect x="407.3" y="14.4" width="5.4" height="3.6" fill="#fff"/>
<rect x="408.4" y="15.4" width="3.2" height="0.9" fill="#3fa01c" opacity="0.6"/>
<rect x="407" y="11.8" width="1" height="0.9" fill="#fff" opacity="0.8"/>
<rect x="423" y="0" width="1" height="21" fill="#a0a0a0"/>
<rect x="428" y="0" width="1" height="21" fill="#a0a0a0"/>
<rect x="429" y="0" width="24" height="21" fill="url(#chk)"/>
<rect x="453" y="0" width="1" height="22" fill="#fff"/>
<rect x="429" y="21" width="25" height="1" fill="#fff"/>
<g shape-rendering="crispEdges">
<rect x="436" y="5" width="1" height="14" fill="#505050"/>
<rect x="434" y="16" width="14" height="1" fill="#505050"/>
<rect x="435" y="6" width="3" height="1" fill="#505050"/>
<rect x="446" y="15" width="1" height="3" fill="#505050"/>
</g>
<path d="M441.3,6.8 L445.3,10.3 L441.3,13.8 Z" fill="#7be07b" stroke="#12981a" stroke-width="0.9"/>
<rect x="456" y="0" width="1" height="21" fill="#a0a0a0"/>
<rect x="457" y="0" width="24" height="21" fill="url(#chk)"/>
<rect x="481" y="0" width="1" height="22" fill="#fff"/>
<rect x="457" y="21" width="25" height="1" fill="#fff"/>
<g shape-rendering="crispEdges">
<rect x="464" y="5" width="1" height="14" fill="#505050"/>
<rect x="462" y="16" width="14" height="1" fill="#505050"/>
<rect x="463" y="6" width="3" height="1" fill="#505050"/>
<rect x="474" y="15" width="1" height="3" fill="#505050"/>
<rect x="470" y="5" width="1" height="10" fill="#1c6ca8"/>
</g>
<path d="M471.6,10.5 L474.6,8 L474.6,9.9 L476.4,9.9 L476.4,11.1 L474.6,11.1 L474.6,13 Z" fill="#e04808"/>
<rect x="485" y="0" width="1" height="21" fill="#a0a0a0"/>
<path d="M496.5,3.5 h6.4 l3,3 v9 a1,1 0 0 1 -1,1 h-8.4 a1,1 0 0 1 -1,-1 v-11 a1,1 0 0 1 1,-1 z" fill="url(#gpage)" stroke="#7a7a7a" stroke-width="1"/>
<path d="M502.9,3.5 v3 h3" fill="#fff" stroke="#7a7a7a" stroke-width="1"/>
<path d="M501.2,6.3 c-1.6,-0.3 -2.2,0.5 -2.3,1.8 l-0.5,5.6" fill="none" stroke="#4a4a2a" stroke-width="0.9"/><path d="M497.3,9.4 h3.2" stroke="#4a4a2a" stroke-width="0.8"/>
<path d="M503,9 h4 v4 h4 v4 h-4 v4 h-4 v-4 h-4 v-4 h4 z" fill="#0a880a" shape-rendering="crispEdges"/>
<path d="M504,10 h2 v4 h4 v2 h-4 v4 h-2 v-4 h-4 v-2 h4 z" fill="url(#gplus2)" shape-rendering="crispEdges"/>
<g shape-rendering="crispEdges">
<rect x="517" y="10" width="5" height="1" fill="#000"/>
<rect x="518" y="11" width="3" height="1" fill="#000"/>
<rect x="519" y="12" width="1" height="1" fill="#000"/>
</g>
<circle cx="541.1" cy="11" r="6.7" fill="#fff" stroke="url(#gclk)" stroke-width="2.9"/>
<circle cx="541.1" cy="11" r="5.2" fill="#fafcff" stroke="#a4c8ec" stroke-width="0.5"/>
<path d="M540.7,7.2 V11.2 L543.6,11.6" fill="none" stroke="#282828" stroke-width="1.1"/>
<circle cx="541.00" cy="6.70" r="0.32" fill="#7088a0"/>
<circle cx="543.15" cy="7.28" r="0.32" fill="#7088a0"/>
<circle cx="544.72" cy="8.85" r="0.32" fill="#7088a0"/>
<circle cx="545.30" cy="11.00" r="0.32" fill="#7088a0"/>
<circle cx="544.72" cy="13.15" r="0.32" fill="#7088a0"/>
<circle cx="543.15" cy="14.72" r="0.32" fill="#7088a0"/>
<circle cx="541.00" cy="15.30" r="0.32" fill="#7088a0"/>
<circle cx="538.85" cy="14.72" r="0.32" fill="#7088a0"/>
<circle cx="537.28" cy="13.15" r="0.32" fill="#7088a0"/>
<circle cx="536.70" cy="11.00" r="0.32" fill="#7088a0"/>
<circle cx="537.28" cy="8.85" r="0.32" fill="#7088a0"/>
<circle cx="538.85" cy="7.28" r="0.32" fill="#7088a0"/>
<g shape-rendering="crispEdges">
<rect x="556" y="10" width="5" height="1" fill="#000"/>
<rect x="557" y="11" width="3" height="1" fill="#000"/>
<rect x="558" y="12" width="1" height="1" fill="#000"/>
</g>
<rect x="572.5" y="4.5" width="15" height="13" fill="#fff" stroke="#3a72c4" stroke-width="1"/>
<rect x="573" y="5" width="14" height="2" fill="#5a9ae8"/>
<rect x="573" y="11" width="14" height="1" fill="#3a72c4"/>
<path d="M574.4,10 h2 l1.6,-1.8 h1.6 l1,1.2 h1.8 l1.4,-1.4 h1.4" fill="none" stroke="#a01808" stroke-width="1"/>
<path d="M574.4,15.6 h1.6 l1.4,-1.2 h1.4 l1,1 l2,-2.2 l1.2,0 l2,2.2" fill="none" stroke="#0a7a0a" stroke-width="1"/>
<g shape-rendering="crispEdges">
<rect x="595" y="10" width="5" height="1" fill="#000"/>
<rect x="596" y="11" width="3" height="1" fill="#000"/>
<rect x="597" y="12" width="1" height="1" fill="#000"/>
</g>
<rect x="606" y="0" width="1" height="23" fill="#a0a0a0"/>
<rect x="610" y="1" width="3" height="1" fill="#a8a8a8"/>
<rect x="610" y="3" width="3" height="1" fill="#a8a8a8"/>
<rect x="610" y="5" width="3" height="1" fill="#a8a8a8"/>
<rect x="610" y="7" width="3" height="1" fill="#a8a8a8"/>
<rect x="610" y="9" width="3" height="1" fill="#a8a8a8"/>
<rect x="610" y="11" width="3" height="1" fill="#a8a8a8"/>
<rect x="610" y="13" width="3" height="1" fill="#a8a8a8"/>
<rect x="610" y="15" width="3" height="1" fill="#a8a8a8"/>
<rect x="610" y="17" width="3" height="1" fill="#a8a8a8"/>
<rect x="610" y="19" width="3" height="1" fill="#a8a8a8"/>
<rect x="616" y="0" width="1" height="21" fill="#a0a0a0"/>
<rect x="617" y="0" width="24" height="21" fill="url(#chk)"/>
<rect x="641" y="0" width="1" height="22" fill="#fff"/>
<rect x="617" y="21" width="25" height="1" fill="#fff"/>
<path d="M624,4 L624,15.2 L626.6,12.8 L629,18 L631,17 L628.6,12 L632,12 Z" fill="#505050"/>
<g shape-rendering="crispEdges">
<rect x="656" y="4" width="1" height="6" fill="#505050"/>
<rect x="656" y="13" width="1" height="6" fill="#505050"/>
<rect x="649" y="11" width="6" height="1" fill="#505050"/>
<rect x="658" y="11" width="6" height="1" fill="#505050"/>
<rect x="656" y="11" width="1" height="1" fill="#9a9a78"/>
</g>
<rect x="673" y="0" width="1" height="21" fill="#a0a0a0"/>
<g shape-rendering="crispEdges">
<rect x="690" y="5" width="1" height="13" fill="#505050"/>
<rect x="713" y="11" width="12" height="1" fill="#505050"/>
</g>
<line x1="741" y1="17.8" x2="753.2" y2="5.8" stroke="#505050" stroke-width="1.1"/>
<line x1="766.6" y1="12.4" x2="774.8" y2="4.8" stroke="#505050" stroke-width="0.9"/>
<line x1="767.8" y1="16.4" x2="780.6" y2="4.8" stroke="#505050" stroke-width="0.9"/>
<line x1="772" y1="17.9" x2="781.3" y2="9.3" stroke="#505050" stroke-width="0.9"/>
<line x1="769.2" y1="10.6" x2="769.8" y2="17.4" stroke="#484848" stroke-width="1.1"/>
<line x1="772.4" y1="9.6" x2="772.9" y2="14.6" stroke="#484848" stroke-width="1.1"/>
<line x1="775.2" y1="7.0" x2="775.7" y2="13.6" stroke="#484848" stroke-width="1.1"/>
<line x1="778.4" y1="3.2" x2="779.0" y2="10.4" stroke="#484848" stroke-width="1.1"/>
<path d="M778,15 h4.1 v1.1 h-2.8 v0.9 h2.5 v1 h-2.5 v0.9 h2.9 v1.1 h-4.2 z" fill="#303030"/>
<g shape-rendering="crispEdges">
<rect x="796" y="4" width="1" height="1" fill="#404040"/>
<rect x="798" y="4" width="1" height="1" fill="#404040"/>
<rect x="800" y="4" width="1" height="1" fill="#404040"/>
<rect x="802" y="4" width="1" height="1" fill="#404040"/>
<rect x="804" y="4" width="1" height="1" fill="#404040"/>
<rect x="806" y="4" width="1" height="1" fill="#404040"/>
<rect x="808" y="4" width="1" height="1" fill="#404040"/>
<rect x="796" y="7" width="1" height="1" fill="#404040"/>
<rect x="798" y="7" width="1" height="1" fill="#404040"/>
<rect x="800" y="7" width="1" height="1" fill="#404040"/>
<rect x="802" y="7" width="1" height="1" fill="#404040"/>
<rect x="804" y="7" width="1" height="1" fill="#404040"/>
<rect x="806" y="7" width="1" height="1" fill="#404040"/>
<rect x="808" y="7" width="1" height="1" fill="#404040"/>
<rect x="796" y="11" width="1" height="1" fill="#404040"/>
<rect x="798" y="11" width="1" height="1" fill="#404040"/>
<rect x="800" y="11" width="1" height="1" fill="#404040"/>
<rect x="802" y="11" width="1" height="1" fill="#404040"/>
<rect x="804" y="11" width="1" height="1" fill="#404040"/>
<rect x="806" y="11" width="1" height="1" fill="#404040"/>
<rect x="808" y="11" width="1" height="1" fill="#404040"/>
<rect x="796" y="15" width="1" height="1" fill="#404040"/>
<rect x="798" y="15" width="1" height="1" fill="#404040"/>
<rect x="800" y="15" width="1" height="1" fill="#404040"/>
<rect x="802" y="15" width="1" height="1" fill="#404040"/>
<rect x="804" y="15" width="1" height="1" fill="#404040"/>
</g>
<path d="M806,15 h3.9 v1.1 h-2.6 v1 h2.3 v1 h-2.3 v1.9 h-1.3 z" fill="#303030"/>
<text x="826.6" y="16" font-size="12.8" fill="#484848" stroke="#484848" stroke-width="0.25">A</text>
<g shape-rendering="crispEdges">
<rect x="853" y="5" width="1" height="1" fill="#404040"/>
<rect x="853" y="17" width="1" height="1" fill="#404040"/>
<rect x="855" y="5" width="1" height="1" fill="#404040"/>
<rect x="855" y="17" width="1" height="1" fill="#404040"/>
<rect x="857" y="5" width="1" height="1" fill="#404040"/>
<rect x="857" y="17" width="1" height="1" fill="#404040"/>
<rect x="859" y="5" width="1" height="1" fill="#404040"/>
<rect x="859" y="17" width="1" height="1" fill="#404040"/>
<rect x="861" y="5" width="1" height="1" fill="#404040"/>
<rect x="861" y="17" width="1" height="1" fill="#404040"/>
<rect x="863" y="5" width="1" height="1" fill="#404040"/>
<rect x="863" y="17" width="1" height="1" fill="#404040"/>
<rect x="865" y="5" width="1" height="1" fill="#404040"/>
<rect x="865" y="17" width="1" height="1" fill="#404040"/>
<rect x="853" y="5" width="1" height="1" fill="#404040"/>
<rect x="865" y="5" width="1" height="1" fill="#404040"/>
<rect x="853" y="7" width="1" height="1" fill="#404040"/>
<rect x="865" y="7" width="1" height="1" fill="#404040"/>
<rect x="853" y="9" width="1" height="1" fill="#404040"/>
<rect x="865" y="9" width="1" height="1" fill="#404040"/>
<rect x="853" y="11" width="1" height="1" fill="#404040"/>
<rect x="865" y="11" width="1" height="1" fill="#404040"/>
<rect x="853" y="13" width="1" height="1" fill="#404040"/>
<rect x="865" y="13" width="1" height="1" fill="#404040"/>
<rect x="853" y="15" width="1" height="1" fill="#404040"/>
<rect x="865" y="15" width="1" height="1" fill="#404040"/>
<rect x="853" y="17" width="1" height="1" fill="#404040"/>
<rect x="865" y="17" width="1" height="1" fill="#404040"/>
<rect x="852" y="4" width="2" height="1" fill="#404040"/>
<rect x="855" y="8" width="8" height="1" fill="#505050"/>
<rect x="855" y="9" width="8" height="1" fill="#909090"/>
<rect x="858" y="8" width="2" height="8" fill="#505050"/>
</g>
<path d="M883.4,4.6 L887,8.4 L879.8,8.4 Z" fill="#505050"/><rect x="881.6" y="8.4" width="3.6" height="1.4" fill="#505050"/>
<path d="M890.6,17.8 L887,14 L894.2,14 Z" fill="#505050"/><rect x="888.8" y="12.6" width="3.6" height="1.4" fill="#505050"/>
<path d="M882,12.2 L884,14.4 L888.4,9" fill="none" stroke="#505050" stroke-width="1.3"/>
<g shape-rendering="crispEdges">
<rect x="901" y="10" width="5" height="1" fill="#000"/>
<rect x="902" y="11" width="3" height="1" fill="#000"/>
<rect x="903" y="12" width="1" height="1" fill="#000"/>
</g>
<rect x="912" y="0" width="1" height="23" fill="#a0a0a0"/>
<rect x="916" y="1" width="3" height="1" fill="#a8a8a8"/>
<rect x="916" y="3" width="3" height="1" fill="#a8a8a8"/>
<rect x="916" y="5" width="3" height="1" fill="#a8a8a8"/>
<rect x="916" y="7" width="3" height="1" fill="#a8a8a8"/>
<rect x="916" y="9" width="3" height="1" fill="#a8a8a8"/>
<rect x="916" y="11" width="3" height="1" fill="#a8a8a8"/>
<rect x="916" y="13" width="3" height="1" fill="#a8a8a8"/>
<rect x="916" y="15" width="3" height="1" fill="#a8a8a8"/>
<rect x="916" y="17" width="3" height="1" fill="#a8a8a8"/>
<rect x="916" y="19" width="3" height="1" fill="#a8a8a8"/>
<rect x="1063" y="0" width="24" height="21" fill="url(#chk)"/>
<rect x="1087" y="0" width="1" height="22" fill="#fff"/>
<rect x="1063" y="21" width="25" height="1" fill="#fff"/>
<rect x="1062" y="0" width="1" height="21" fill="#a0a0a0"/>
<text x="927.2" y="15" font-size="10" fill="#3c3c3c" textLength="13.4" lengthAdjust="spacingAndGlyphs">M1</text>
<text x="955.2" y="15" font-size="10" fill="#3c3c3c" textLength="13.6" lengthAdjust="spacingAndGlyphs">M5</text>
<text x="981.4" y="15" font-size="10" fill="#3c3c3c" textLength="18.1" lengthAdjust="spacingAndGlyphs">M15</text>
<text x="1009.4" y="15" font-size="10" fill="#3c3c3c" textLength="18.1" lengthAdjust="spacingAndGlyphs">M30</text>
<text x="1040.2" y="15" font-size="10" fill="#3c3c3c" textLength="12.4" lengthAdjust="spacingAndGlyphs">H1</text>
<text x="1067.2" y="15" font-size="10" fill="#3c3c3c" textLength="13.2" lengthAdjust="spacingAndGlyphs">H4</text>
<text x="1096.2" y="15" font-size="10" fill="#3c3c3c" textLength="12.4" lengthAdjust="spacingAndGlyphs">D1</text>
<text x="1123.9" y="15" font-size="10" fill="#3c3c3c" textLength="15.3" lengthAdjust="spacingAndGlyphs">W1</text>
<text x="1150.2" y="15" font-size="10" fill="#3c3c3c" textLength="16.2" lengthAdjust="spacingAndGlyphs">MN</text>
<rect x="1173" y="0" width="1" height="23" fill="#a0a0a0"/>
<line x1="1640.2" y1="11.8" x2="1635.8" y2="15.9" stroke="#2456d0" stroke-width="2.2" stroke-linecap="round"/>
<circle cx="1643.5" cy="8.5" r="4" fill="#fbfbff" stroke="#2a5cd8" stroke-width="1.1"/>
<path d="M1660.6,13 a5.2,4.4 0 1 1 5.4,4.4 l-2.6,2.2 l0.4,-2.4 a5,4.4 0 0 1 -3.2,-4.2 z" fill="#e4e4ee" stroke="#a8a8a8" stroke-width="0.9"/>
<circle cx="1674.5" cy="8.3" r="8.3" fill="url(#gred)"/>
<path d="M1672.7,3.9 H1675 V11.7 H1676.3 V13.3 H1670.9 V11.7 H1672.5 V6.4 L1670.9,6.9 V5.3 Z" fill="#fff"/>
</g>
</svg>
</body></html>
